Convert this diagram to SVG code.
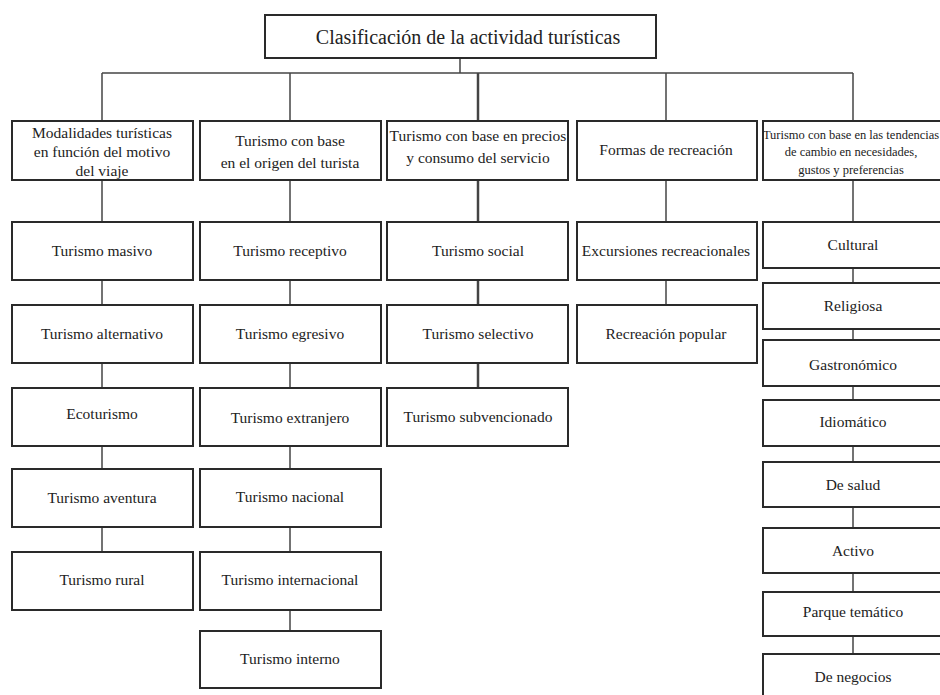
<svg xmlns="http://www.w3.org/2000/svg" width="940" height="695" viewBox="0 0 940 695">
<style>
.box{fill:#fff;stroke:#2a2a2a;stroke-width:2}
.t{font-family:"Liberation Serif","DejaVu Serif",serif;font-size:15.5px;fill:#222;text-anchor:middle;dominant-baseline:central}
.title{font-size:20px}
.sm{font-size:12.5px}
#connectors line{stroke:#444;stroke-width:1.5}
</style>
<rect width="940" height="695" fill="#fff"/>
<g id="connectors">
<line x1="460" y1="58" x2="460" y2="73"/>
<line x1="102" y1="73" x2="853" y2="73"/>
<line x1="102" y1="73" x2="102" y2="121"/>
<line x1="290" y1="73" x2="290" y2="121"/>
<line x1="478" y1="73" x2="478" y2="121" style="stroke-width:2.5"/>
<line x1="666" y1="73" x2="666" y2="121"/>
<line x1="853" y1="73" x2="853" y2="121"/>
<line x1="102" y1="180" x2="102" y2="552"/>
<line x1="290" y1="180" x2="290" y2="631"/>
<line x1="478" y1="180" x2="478" y2="388" style="stroke-width:2.5"/>
<line x1="666" y1="180" x2="666" y2="305"/>
<line x1="853" y1="180" x2="853" y2="654"/>
</g>
<g id="root"><rect class="box" x="265" y="15" width="391" height="43"/><text class="t title" x="468" y="37">Clasificación de la actividad turísticas</text></g>
<g id="c1"><rect class="box" x="12" y="121" width="181" height="59"/><text class="t" x="102" y="132">Modalidades turísticas</text><text class="t" x="102" y="151">en función del motivo</text><text class="t" x="102" y="170">del viaje</text></g>
<g id="c2"><rect class="box" x="200" y="121" width="181" height="59"/><text class="t" x="290" y="140">Turismo con base</text><text class="t" x="290" y="162">en el origen del turista</text></g>
<g id="c3"><rect class="box" x="387" y="121" width="181" height="59"/><text class="t" x="478" y="135">Turismo con base en precios</text><text class="t" x="478" y="157">y consumo del servicio</text></g>
<g id="c4"><rect class="box" x="577" y="121" width="180" height="59"/><text class="t" x="666" y="149">Formas de recreación</text></g>
<g id="c5"><rect class="box" x="763" y="121" width="180" height="59"/><text class="t sm" x="851" y="135">Turismo con base en las tendencias</text><text class="t sm" x="851" y="152">de cambio en necesidades,</text><text class="t sm" x="851" y="170">gustos y preferencias</text></g>

<g id="c1n1"><rect class="box" x="12" y="222" width="181" height="58"/><text class="t" x="102" y="250">Turismo masivo</text></g>
<g id="c1n2"><rect class="box" x="12" y="305" width="181" height="58"/><text class="t" x="102" y="333">Turismo alternativo</text></g>
<g id="c1n3"><rect class="box" x="12" y="388" width="181" height="58"/><text class="t" x="102" y="413">Ecoturismo</text></g>
<g id="c1n4"><rect class="box" x="12" y="469" width="181" height="58"/><text class="t" x="102" y="497">Turismo aventura</text></g>
<g id="c1n5"><rect class="box" x="12" y="552" width="181" height="58"/><text class="t" x="102" y="579">Turismo rural</text></g>

<g id="c2n1"><rect class="box" x="200" y="222" width="181" height="58"/><text class="t" x="290" y="250">Turismo receptivo</text></g>
<g id="c2n2"><rect class="box" x="200" y="305" width="181" height="58"/><text class="t" x="290" y="333">Turismo egresivo</text></g>
<g id="c2n3"><rect class="box" x="200" y="388" width="181" height="58"/><text class="t" x="290" y="417">Turismo extranjero</text></g>
<g id="c2n4"><rect class="box" x="200" y="469" width="181" height="58"/><text class="t" x="290" y="496">Turismo nacional</text></g>
<g id="c2n5"><rect class="box" x="200" y="552" width="181" height="58"/><text class="t" x="290" y="579">Turismo internacional</text></g>
<g id="c2n6"><rect class="box" x="200" y="631" width="181" height="57"/><text class="t" x="290" y="658">Turismo interno</text></g>

<g id="c3n1"><rect class="box" x="387" y="222" width="181" height="58"/><text class="t" x="478" y="250">Turismo social</text></g>
<g id="c3n2"><rect class="box" x="387" y="305" width="181" height="58"/><text class="t" x="478" y="333">Turismo selectivo</text></g>
<g id="c3n3"><rect class="box" x="387" y="388" width="181" height="58"/><text class="t" x="478" y="416">Turismo subvencionado</text></g>

<g id="c4n1"><rect class="box" x="577" y="222" width="180" height="58"/><text class="t" x="666" y="250">Excursiones recreacionales</text></g>
<g id="c4n2"><rect class="box" x="577" y="305" width="180" height="58"/><text class="t" x="666" y="333">Recreación popular</text></g>

<g id="c5n1"><rect class="box" x="763" y="222" width="180" height="46"/><text class="t" x="853" y="244">Cultural</text></g>
<g id="c5n2"><rect class="box" x="763" y="283" width="180" height="46"/><text class="t" x="853" y="305">Religiosa</text></g>
<g id="c5n3"><rect class="box" x="763" y="340" width="180" height="46"/><text class="t" x="853" y="364">Gastronómico</text></g>
<g id="c5n4"><rect class="box" x="763" y="400" width="180" height="46"/><text class="t" x="853" y="421">Idiomático</text></g>
<g id="c5n5"><rect class="box" x="763" y="462" width="180" height="45"/><text class="t" x="853" y="484">De salud</text></g>
<g id="c5n6"><rect class="box" x="763" y="528" width="180" height="45"/><text class="t" x="853" y="550">Activo</text></g>
<g id="c5n7"><rect class="box" x="763" y="592" width="180" height="44"/><text class="t" x="853" y="611">Parque temático</text></g>
<g id="c5n8"><rect class="box" x="763" y="654" width="180" height="50"/><text class="t" x="853" y="676">De negocios</text></g>
</svg>
